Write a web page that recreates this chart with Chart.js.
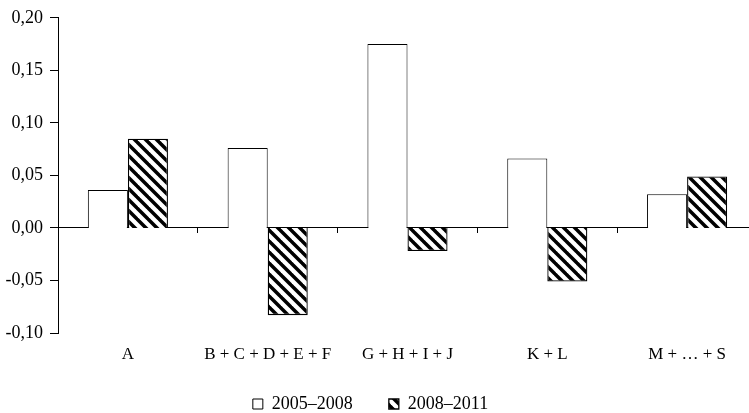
<!DOCTYPE html>
<html>
<head>
<meta charset="utf-8">
<script src="https://cdn.jsdelivr.net/npm/chart.js@4/dist/chart.umd.min.js"></script>
<style>
    html, body { margin: 0; padding: 0; background: #fff; overflow: hidden; }
    /* plot runs a little past the right edge in the original, and the legend sits left of centre */
    #wrap { width: 773px; height: 413px; margin-left: -16px; }
</style>
</head>
<body>
<div id="wrap"><canvas id="chart"></canvas></div>
<script>
const categories = ["A", "B + C + D + E + F", "G + H + I + J", "K + L", "M + … + S"];
const values2005to2008 = [0.036, 0.076, 0.175, 0.066, 0.032];
const values2008to2011 = [0.085, -0.083, -0.022, -0.051, 0.049];
const seriesNames = ["2005–2008", "2008–2011"];
const yMin = -0.10;
const yMax = 0.20;
const yStep = 0.05;

const canvas = document.getElementById("chart");
const ctx = canvas.getContext("2d");

// diagonal hatch for the second series
function makeHatch() {
    const size = 11;
    const tile = document.createElement("canvas");
    tile.width = size;
    tile.height = size;
    const g = tile.getContext("2d");
    g.fillStyle = "#fff";
    g.fillRect(0, 0, size, size);
    g.strokeStyle = "#000";
    g.lineWidth = 3.5;
    [-size, 0, size].forEach(function (k) {
        g.beginPath();
        g.moveTo(k - 1, -1);
        g.lineTo(k + size + 1, size + 1);
        g.stroke();
    });
    return ctx.createPattern(tile, "repeat");
}

Chart.defaults.font.family = "'Liberation Serif', 'Times New Roman', serif";
Chart.defaults.font.size = 17;
Chart.defaults.color = "#000";

new Chart(ctx, {
    type: "bar",
    data: {
        labels: categories,
        datasets: [
            {
                label: seriesNames[0],
                data: values2005to2008,
                backgroundColor: "#fff",
                borderColor: "#000",
                borderWidth: 1,
                categoryPercentage: 0.573,
                barPercentage: 1
            },
            {
                label: seriesNames[1],
                data: values2008to2011,
                backgroundColor: makeHatch(),
                borderColor: "#000",
                borderWidth: 1.3,
                categoryPercentage: 0.573,
                barPercentage: 1
            }
        ]
    },
    options: {
        responsive: true,
        maintainAspectRatio: false,
        animation: false,
        layout: { padding: { top: 14, left: 0, right: 0, bottom: 0 } },
        plugins: {
            tooltip: { enabled: false },
            legend: {
                position: "bottom",
                maxHeight: 54,
                labels: {
                    boxWidth: 10,
                    boxHeight: 10,
                    padding: 36,
                    color: "#000",
                    font: { size: 18 }
                }
            }
        },
        scales: {
            x: {
                position: "bottom",
                grid: { display: false, drawTicks: false },
                border: { display: false },
                ticks: { display: false },
                afterFit: function (scale) { scale.height = 26; }
            },
            // zero line with the category ticks, labels hang down below the plot
            x2: {
                axis: "x",
                type: "category",
                position: { y: 0 },
                offset: true,
                grid: { offset: true, drawOnChartArea: false, color: "#000", tickLength: 5, lineWidth: 1 },
                border: { display: true, color: "#000", width: 1 },
                ticks: { padding: 111, maxRotation: 0, autoSkip: false, color: "#000", font: { size: 17 } },
                afterFit: function (scale) {
                    // the big tick padding must not squeeze the plot sideways
                    scale.paddingLeft = 0;
                    scale.paddingRight = 0;
                }
            },
            y: {
                min: yMin,
                max: yMax,
                grid: { drawOnChartArea: false, color: "#000", tickLength: 8 },
                border: { color: "#000", width: 1 },
                ticks: {
                    stepSize: yStep,
                    padding: 7,
                    color: "#000",
                    font: { size: 18 },
                    callback: function (value) {
                        return (Math.round(value * 100) / 100).toFixed(2).replace(".", ",");
                    }
                },
                afterFit: function (scale) { scale.width = 74; }
            }
        }
    }
});
</script>
</body>
</html>
